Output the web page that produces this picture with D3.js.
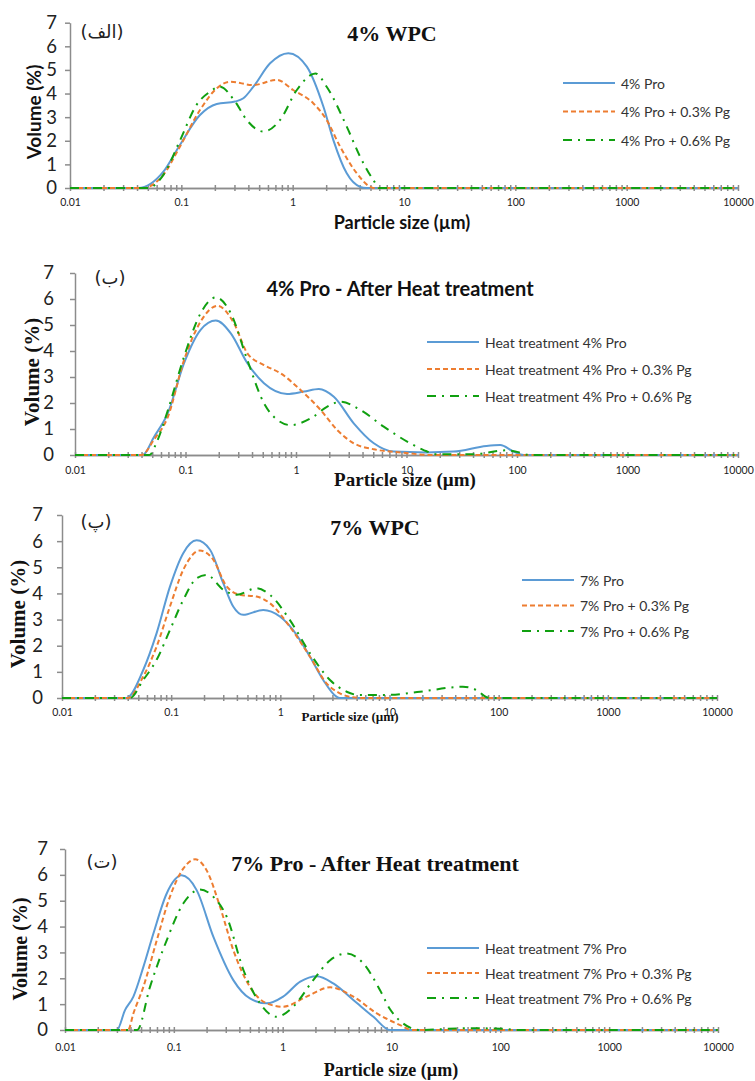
<!DOCTYPE html>
<meta charset="utf-8">
<script src="https://d3js.org/d3.v7.min.js"></script>
<style>
body { margin: 0; background: #fff; }
</style>
<div id="chart"></div>
<script>
// ---- tick values / labels ----
var sizeTicks = [0.01, 0.1, 1, 10, 100, 1000, 10000];
var sizeTickLabels = ["0.01", "0.1", "1", "10", "100", "1000", "10000"];
var volTicks = [0, 1, 2, 3, 4, 5, 6, 7];

// ---- panel (الف) : 4% WPC  [size um, volume %] ----
var p1Pro = [[0.01,0],[0.041,0],[0.069,0.69],[0.097,1.82],[0.147,3.09],[0.208,3.56],[0.304,3.66],[0.361,3.8],[0.444,4.29],[0.627,5.28],[0.915,5.71],[1.34,5.14],[1.89,3.44],[2.32,2.03],[3.06,0.62],[4.03,0.05],[4.6,0],[10000,0]];
var p1Pg3 = [[0.01,0],[0.045,0],[0.07,0.6],[0.097,1.75],[0.147,3.3],[0.208,4.22],[0.274,4.5],[0.444,4.36],[0.72,4.58],[1.01,4.15],[1.53,3.59],[2.02,2.88],[2.67,1.75],[3.77,0.62],[4.96,0.05],[5.3,0],[10000,0]];
var p1Pg6 = [[0.01,0],[0.05,0],[0.07,0.6],[0.097,2.0],[0.137,3.52],[0.181,4.08],[0.222,4.29],[0.304,3.66],[0.387,2.88],[0.546,2.39],[0.771,2.88],[1.09,4.15],[1.6,4.85],[2.02,4.29],[3.06,2.6],[4.03,1.33],[5.3,0.34],[6.0,0],[10000,0]];

// ---- panel (ب) : 4% Pro after heat treatment ----
var p2Pro = [[0.01,0],[0.041,0],[0.052,0.7],[0.069,1.6],[0.097,3.53],[0.137,4.81],[0.188,5.17],[0.257,4.68],[0.363,3.53],[0.513,2.76],[0.83,2.35],[1.18,2.44],[1.61,2.54],[2.2,2.24],[3.33,1.22],[5.06,0.45],[7.66,0.13],[15,0.1],[26.7,0.13],[53,0.35],[70.5,0.38],[93,0.13],[115,0],[10000,0]];
var p2Pg3 = [[0.01,0],[0.04,0],[0.052,0.6],[0.069,1.45],[0.097,3.65],[0.137,5.13],[0.195,5.74],[0.275,5.06],[0.363,3.91],[0.513,3.46],[0.726,3.14],[1.1,2.5],[1.67,1.73],[2.36,0.96],[3.33,0.45],[5.06,0.22],[9.4,0.09],[16.4,0],[10000,0]];
var p2Pg6 = [[0.01,0],[0.047,0],[0.055,0.5],[0.069,1.7],[0.097,3.78],[0.137,5.45],[0.188,6.06],[0.257,5.45],[0.363,3.65],[0.513,1.99],[0.678,1.35],[0.894,1.15],[1.36,1.41],[1.92,1.86],[2.53,2.05],[3.83,1.73],[6.22,1.09],[10.8,0.45],[14.3,0.19],[19,0.03],[40,0.03],[80,0.18],[100,0.12],[130,0],[10000,0]];

// ---- panel (پ) : 7% WPC ----
var p3Pro = [[0.01,0],[0.039,0],[0.0555,1.07],[0.0736,2.48],[0.0975,4.26],[0.129,5.54],[0.171,6.03],[0.227,5.67],[0.3,4.39],[0.37,3.5],[0.457,3.18],[0.697,3.37],[0.99,3.12],[1.31,2.6],[1.87,1.58],[2.47,0.69],[3.27,0.05],[3.5,0],[10000,0]];
var p3Pg3 = [[0.01,0],[0.04,0],[0.0555,0.82],[0.0736,1.97],[0.0975,3.5],[0.129,4.9],[0.183,5.64],[0.243,5.29],[0.322,4.27],[0.427,3.95],[0.606,3.88],[0.8,3.63],[1.22,2.73],[1.87,1.58],[2.65,0.56],[3.51,0.18],[4.6,0.03],[6,0],[10000,0]];
var p3Pg6 = [[0.01,0],[0.042,0],[0.0555,0.69],[0.0736,1.46],[0.0975,2.6],[0.129,3.75],[0.171,4.58],[0.211,4.71],[0.3,4.14],[0.398,3.95],[0.606,4.2],[0.8,3.95],[1.22,2.99],[1.87,1.71],[2.85,0.69],[4.05,0.24],[5.36,0.11],[10,0.12],[19,0.24],[47,0.43],[62.8,0.3],[77.5,0.03],[85,0],[10000,0]];

// ---- panel (ت) : 7% Pro after heat treatment ----
var p4Pro = [[0.01,0],[0.03,0],[0.0356,0.77],[0.0425,1.29],[0.0525,2.44],[0.0649,3.73],[0.086,5.28],[0.118,5.98],[0.162,5.41],[0.231,3.6],[0.352,1.93],[0.5,1.22],[0.713,1.03],[1.01,1.29],[1.45,1.87],[2.06,2.08],[2.92,1.8],[4.46,1.16],[6.82,0.51],[9.7,0],[10000,0]];
var p4Pg3 = [[0.01,0],[0.038,0],[0.0425,0.64],[0.0525,1.67],[0.0697,3.47],[0.092,5.15],[0.122,6.24],[0.157,6.6],[0.2,6.18],[0.266,4.76],[0.352,3.09],[0.5,1.67],[0.713,1.03],[1.01,0.9],[1.66,1.29],[2.73,1.65],[4.46,1.29],[7.33,0.64],[12,0.19],[15.4,0],[10000,0]];
var p4Pg6 = [[0.01,0],[0.046,0],[0.0604,1.67],[0.086,3.47],[0.122,4.89],[0.174,5.43],[0.231,5.15],[0.306,4.38],[0.436,2.32],[0.62,1.03],[0.88,0.51],[1.25,0.9],[1.91,1.93],[2.73,2.7],[3.88,2.96],[5.52,2.57],[7.85,1.54],[9.7,0.8],[12,0.35],[15,0.08],[18,0],[50,0.07],[100,0.05],[150,0],[10000,0]];

// legend names
var names1 = ["4% Pro", "4% Pro + 0.3% Pg", "4% Pro + 0.6% Pg"];
var names2 = ["Heat treatment 4% Pro", "Heat treatment 4% Pro + 0.3% Pg", "Heat treatment 4% Pro + 0.6% Pg"];
var names3 = ["7% Pro", "7% Pro + 0.3% Pg", "7% Pro + 0.6% Pg"];
var names4 = ["Heat treatment 7% Pro", "Heat treatment 7% Pro + 0.3% Pg", "Heat treatment 7% Pro + 0.6% Pg"];

var SANS = "Lato, 'Open Sans', sans-serif";
var SERIF = "'Liberation Serif', 'Times New Roman', serif";

// series styles (blue solid, orange dash, green dash-dot)
var styles = [
  {color: "#5b9bd5", dash: null},
  {color: "#ed7d31", dash: "5,3"},
  {color: "#10a010", dash: "9,6,2,6"}
];

// layout of the four stacked panels
var panels = [
  {series: [p1Pro, p1Pg3, p1Pg6], names: names1, tag: "(الف)", tagX: 102, tagY: 31,
   x0: 70, x1: 738, yb: 188, yt: 22.7, ypad: 8, xpad: 8,
   title: "4% WPC", titleFont: SERIF, titleSize: 22, titleX: 392, titleY: 33,
   ylab: "Volume (%)", ylabFont: SANS, ylabSize: 19, ylabX: 33, ylabY: 112,
   xlab: "Particle size (µm)", xlabFont: SANS, xlabSize: 18, xlabX: 402, xlabY: 222,
   legX: 563, legY: 83, legGap: 28.5, legSize: 14},
  {series: [p2Pro, p2Pg3, p2Pg6], names: names2, tag: "(ب)", tagX: 110, tagY: 277,
   x0: 75, x1: 738, yb: 455, yt: 273, ypad: 16, xpad: 9,
   title: "4% Pro - After Heat treatment", titleFont: SANS, titleSize: 20, titleX: 400, titleY: 288,
   ylab: "Volume (%)", ylabFont: SERIF, ylabSize: 21, ylabX: 32, ylabY: 372,
   xlab: "Particle size (µm)", xlabFont: SERIF, xlabSize: 19, xlabX: 405, xlabY: 479,
   legX: 427, legY: 342, legGap: 27, legSize: 14},
  {series: [p3Pro, p3Pg3, p3Pg6], names: names3, tag: "(پ)", tagX: 96, tagY: 521,
   x0: 62, x1: 717, yb: 698, yt: 515, ypad: 14, xpad: 8,
   title: "7% WPC", titleFont: SERIF, titleSize: 22, titleX: 375, titleY: 527,
   ylab: "Volume (%)", ylabFont: SERIF, ylabSize: 21, ylabX: 18, ylabY: 614,
   xlab: "Particle size (µm)", xlabFont: SERIF, xlabSize: 13, xlabX: 350, xlabY: 716,
   legX: 522, legY: 580, legGap: 25.5, legSize: 14},
  {series: [p4Pro, p4Pg3, p4Pg6], names: names4, tag: "(ت)", tagX: 102, tagY: 861,
   x0: 65, x1: 718, yb: 1030, yt: 849, ypad: 12, xpad: 11,
   title: "7% Pro - After Heat treatment", titleFont: SERIF, titleSize: 22, titleX: 375, titleY: 863,
   ylab: "Volume (%)", ylabFont: SERIF, ylabSize: 20, ylabX: 20, ylabY: 949,
   xlab: "Particle size (µm)", xlabFont: SERIF, xlabSize: 18, xlabX: 391, xlabY: 1070,
   legX: 427, legY: 948, legGap: 25, legSize: 14}
];

var svg = d3.select("#chart").append("svg")
    .attr("width", 755)
    .attr("height", 1081)
    .style("display", "block");

// minor ticks 2..9 of every decade
var minorTicks = [];
sizeTicks.slice(0, -1).forEach(function(d) {
  for (var k = 2; k <= 9; k++) minorTicks.push(d * k);
});
var allTicks = sizeTicks.concat(minorTicks);

panels.forEach(function(p) {
  var g = svg.append("g");

  var x = d3.scaleLog().domain([0.01, 10000]).range([p.x0, p.x1]);
  var y = d3.scaleLinear().domain([0, 7]).range([p.yb, p.yt]);

  // x axis: crossing ticks
  var xa = g.append("g")
      .attr("transform", "translate(0," + p.yb + ")")
      .call(d3.axisBottom(x).tickValues(allTicks).tickSize(3).tickSizeOuter(0).tickPadding(p.xpad)
        .tickFormat(function(d) {
          var i = sizeTicks.indexOf(d);
          return i >= 0 ? sizeTickLabels[i] : "";
        }));
  g.append("g")
      .attr("transform", "translate(0," + p.yb + ")")
      .call(d3.axisTop(x).tickValues(allTicks).tickSize(3).tickSizeOuter(0).tickFormat(""));

  // y axis
  var ya = g.append("g")
      .attr("transform", "translate(" + p.x0 + ",0)")
      .call(d3.axisLeft(y).tickValues(volTicks).tickSize(5).tickSizeOuter(0).tickPadding(p.ypad)
        .tickFormat(d3.format("d")));

  g.selectAll(".domain, .tick line").attr("stroke", "#8c8c8c").attr("stroke-width", 1.5);
  xa.selectAll("text").attr("font-family", SANS).attr("font-size", 10.5).attr("fill", "#222");
  ya.selectAll("text").attr("font-family", SANS).attr("font-size", 18.5).attr("fill", "#222");

  // curves
  var line = d3.line()
      .x(function(d) { return x(d[0]); })
      .y(function(d) { return y(d[1]); })
      .curve(d3.curveMonotoneX);

  p.series.forEach(function(s, i) {
    g.append("path")
        .datum(s)
        .attr("d", line)
        .attr("fill", "none")
        .attr("stroke", styles[i].color)
        .attr("stroke-width", 2)
        .attr("stroke-dasharray", styles[i].dash);
  });

  // legend
  p.names.forEach(function(n, i) {
    var ly = p.legY + i * p.legGap;
    g.append("line")
        .attr("x1", p.legX).attr("x2", p.legX + 52)
        .attr("y1", ly).attr("y2", ly)
        .attr("stroke", styles[i].color)
        .attr("stroke-width", 2)
        .attr("stroke-dasharray", styles[i].dash);
    g.append("text")
        .attr("x", p.legX + 58).attr("y", ly)
        .attr("dominant-baseline", "central")
        .attr("font-family", SANS).attr("font-size", p.legSize)
        .attr("fill", "#333")
        .text(n);
  });

  // titles and labels
  g.append("text")
      .attr("x", p.titleX).attr("y", p.titleY)
      .attr("text-anchor", "middle").attr("dominant-baseline", "central")
      .attr("font-family", p.titleFont).attr("font-weight", "bold")
      .attr("font-size", p.titleSize).attr("fill", "#111")
      .text(p.title);

  g.append("text")
      .attr("transform", "translate(" + p.ylabX + "," + p.ylabY + ") rotate(-90)")
      .attr("text-anchor", "middle").attr("dominant-baseline", "central")
      .attr("font-family", p.ylabFont).attr("font-weight", "bold")
      .attr("font-size", p.ylabSize).attr("fill", "#111")
      .text(p.ylab);

  g.append("text")
      .attr("x", p.xlabX).attr("y", p.xlabY)
      .attr("text-anchor", "middle").attr("dominant-baseline", "central")
      .attr("font-family", p.xlabFont).attr("font-weight", "bold")
      .attr("font-size", p.xlabSize).attr("fill", "#111")
      .text(p.xlab);

  g.append("text")
      .attr("x", p.tagX).attr("y", p.tagY)
      .attr("text-anchor", "middle").attr("dominant-baseline", "central")
      .attr("font-family", "'DejaVu Sans', sans-serif")
      .attr("font-size", 18).attr("fill", "#222")
      .text(p.tag);
});
</script>
